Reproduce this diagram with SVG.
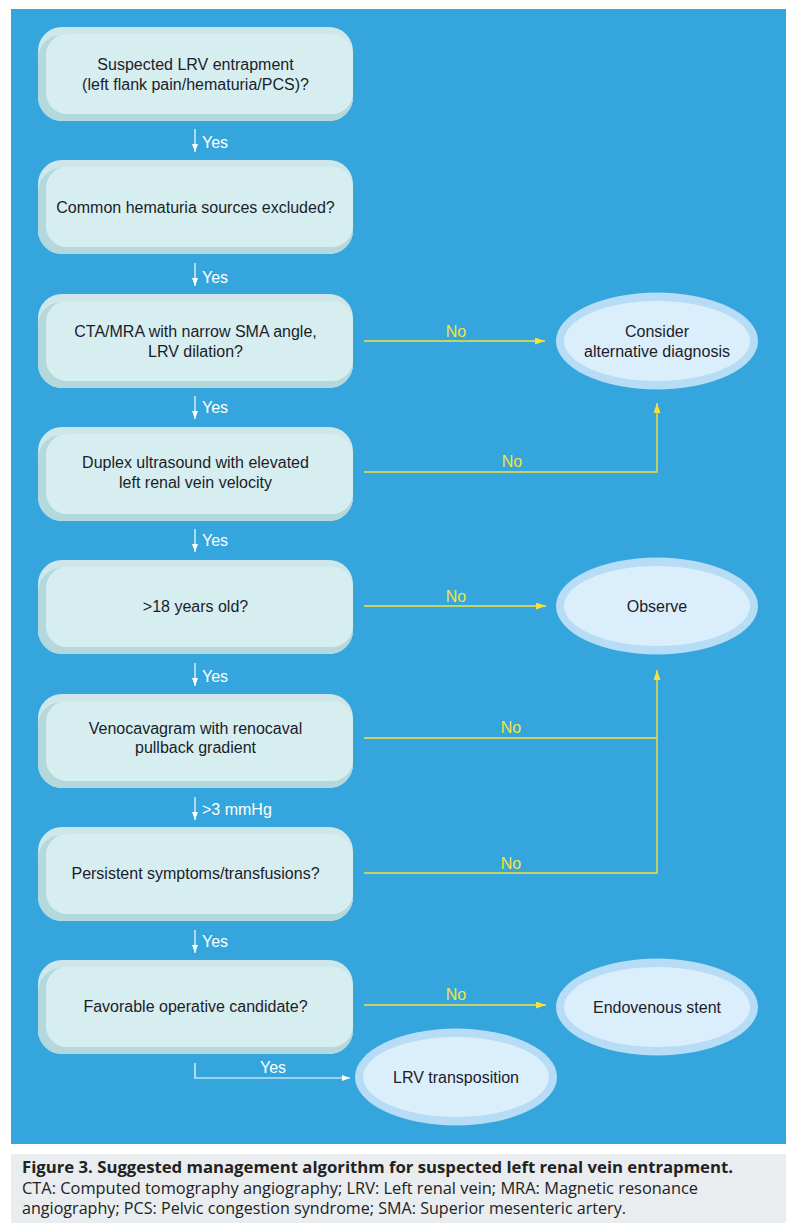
<svg xmlns="http://www.w3.org/2000/svg" width="793" height="1227" viewBox="0 0 793 1227">
<style>
.bo{fill:#cfe7ea}
.bb{fill:#b4d9dd}
.bi{fill:#d6eef0}
.eo{fill:#b6dcf6}
.ei{fill:#dbeefb}
.t{font-family:"Liberation Sans",Arial,sans-serif;font-size:16px;fill:#1c1c2a;text-anchor:middle}
.w{font-family:"Liberation Sans",Arial,sans-serif;font-size:16px;fill:#ffffff}
.y{font-family:"Liberation Sans",Arial,sans-serif;font-size:16px;fill:#f7e23c;text-anchor:middle}
.wl{stroke:#ffffff;stroke-width:1.2;fill:none}
.yl{stroke:#f7e03a;stroke-width:1.4;fill:none}
.cap{font-family:"Open Sans","DejaVu Sans",sans-serif;font-size:16px;fill:#222222}
</style>
<defs>
<marker id="aw" markerWidth="8" markerHeight="6" refX="8" refY="3" orient="auto" markerUnits="userSpaceOnUse"><path d="M0,0 L8,3 L0,6 Z" fill="#ffffff"/></marker>
<marker id="ay" markerWidth="10" markerHeight="7" refX="10" refY="3.5" orient="auto" markerUnits="userSpaceOnUse"><path d="M0,0 L10,3.5 L0,7 Z" fill="#f7e03a"/></marker>
<g id="box">
<rect x="38" y="0" width="315" height="94" rx="24" class="bo"/>
<rect x="38" y="8" width="315" height="86" rx="24" class="bb"/>
<rect x="46" y="7" width="307" height="80" rx="21" class="bi"/>
</g>
</defs>
<rect x="0" y="0" width="793" height="1227" fill="#ffffff"/>
<rect x="11" y="9" width="775" height="1135" fill="#34a6dd"/>
<rect x="11" y="1154" width="775" height="69" fill="#e9edf0"/>

<g id="connectors">
<line x1="195" y1="129" x2="195" y2="152" class="wl" marker-end="url(#aw)"/>
<text x="202" y="148" class="w">Yes</text>
<line x1="195" y1="263" x2="195" y2="286" class="wl" marker-end="url(#aw)"/>
<text x="202" y="283" class="w">Yes</text>
<line x1="195" y1="396" x2="195" y2="419" class="wl" marker-end="url(#aw)"/>
<text x="202" y="413" class="w">Yes</text>
<line x1="195" y1="529" x2="195" y2="552" class="wl" marker-end="url(#aw)"/>
<text x="202" y="546" class="w">Yes</text>
<line x1="195" y1="663" x2="195" y2="686" class="wl" marker-end="url(#aw)"/>
<text x="202" y="682" class="w">Yes</text>
<line x1="195" y1="797" x2="195" y2="820" class="wl" marker-end="url(#aw)"/>
<text x="202" y="815" class="w">&gt;3 mmHg</text>
<line x1="195" y1="930" x2="195" y2="953" class="wl" marker-end="url(#aw)"/>
<text x="202" y="947" class="w">Yes</text>
<polyline points="195,1063 195,1078 350,1078" class="wl" marker-end="url(#aw)"/>
<text x="273" y="1073" class="w" text-anchor="middle">Yes</text>

<line x1="364" y1="341" x2="545" y2="341" class="yl" marker-end="url(#ay)"/>
<text x="456" y="337" class="y">No</text>
<polyline points="364,472 657,472 657,403" class="yl" marker-end="url(#ay)"/>
<text x="512" y="467" class="y">No</text>
<line x1="364" y1="606" x2="546" y2="606" class="yl" marker-end="url(#ay)"/>
<text x="456" y="602" class="y">No</text>
<line x1="364" y1="738" x2="657" y2="738" class="yl"/>
<polyline points="364,873 657,873 657,670" class="yl" marker-end="url(#ay)"/>
<text x="511" y="733" class="y">No</text>
<text x="511" y="869" class="y">No</text>
<line x1="364" y1="1005" x2="546" y2="1005" class="yl" marker-end="url(#ay)"/>
<text x="456" y="1000" class="y">No</text>
</g>

<g id="n1"><use href="#box" y="27"/><text x="195.5" y="70" class="t">Suspected LRV entrapment</text><text x="195.5" y="90" class="t">(left flank pain/hematuria/PCS)?</text></g>
<g id="n2"><use href="#box" y="160"/><text x="195.5" y="213" class="t">Common hematuria sources excluded?</text></g>
<g id="n3"><use href="#box" y="294"/><text x="195.5" y="337" class="t">CTA/MRA with narrow SMA angle,</text><text x="195.5" y="357" class="t">LRV dilation?</text></g>
<g id="n4"><use href="#box" y="427"/><text x="195.5" y="468" class="t">Duplex ultrasound with elevated</text><text x="195.5" y="488" class="t">left renal vein velocity</text></g>
<g id="n5"><use href="#box" y="560"/><text x="195.5" y="612" class="t">&gt;18 years old?</text></g>
<g id="n6"><use href="#box" y="694"/><text x="195.5" y="734" class="t">Venocavagram with renocaval</text><text x="195.5" y="753" class="t">pullback gradient</text></g>
<g id="n7"><use href="#box" y="827"/><text x="195.5" y="879" class="t">Persistent symptoms/transfusions?</text></g>
<g id="n8"><use href="#box" y="960"/><text x="195.5" y="1012" class="t">Favorable operative candidate?</text></g>

<g id="e1"><ellipse cx="657" cy="341" rx="101" ry="48.5" class="eo"/><ellipse cx="657" cy="341" rx="93" ry="40" class="ei"/><text x="657" y="337" class="t">Consider</text><text x="657" y="357" class="t">alternative diagnosis</text></g>
<g id="e2"><ellipse cx="657" cy="606" rx="101" ry="48.5" class="eo"/><ellipse cx="657" cy="606" rx="93" ry="40" class="ei"/><text x="657" y="612" class="t">Observe</text></g>
<g id="e3"><ellipse cx="657" cy="1007" rx="101" ry="48.5" class="eo"/><ellipse cx="657" cy="1007" rx="93" ry="40" class="ei"/><text x="657" y="1013" class="t">Endovenous stent</text></g>
<g id="e4"><ellipse cx="456" cy="1077" rx="101" ry="48.5" class="eo"/><ellipse cx="456" cy="1077" rx="93" ry="40" class="ei"/><text x="456" y="1083" class="t">LRV transposition</text></g>

<g id="caption">
<text x="22" y="1173" class="cap" font-weight="bold" textLength="711" lengthAdjust="spacingAndGlyphs">Figure 3. Suggested management algorithm for suspected left renal vein entrapment.</text>
<text x="22" y="1194" class="cap" textLength="676" lengthAdjust="spacingAndGlyphs">CTA: Computed tomography angiography; LRV: Left renal vein; MRA: Magnetic resonance</text>
<text x="22" y="1214" class="cap" textLength="604" lengthAdjust="spacingAndGlyphs">angiography; PCS: Pelvic congestion syndrome; SMA: Superior mesenteric artery.</text>
</g>
</svg>
